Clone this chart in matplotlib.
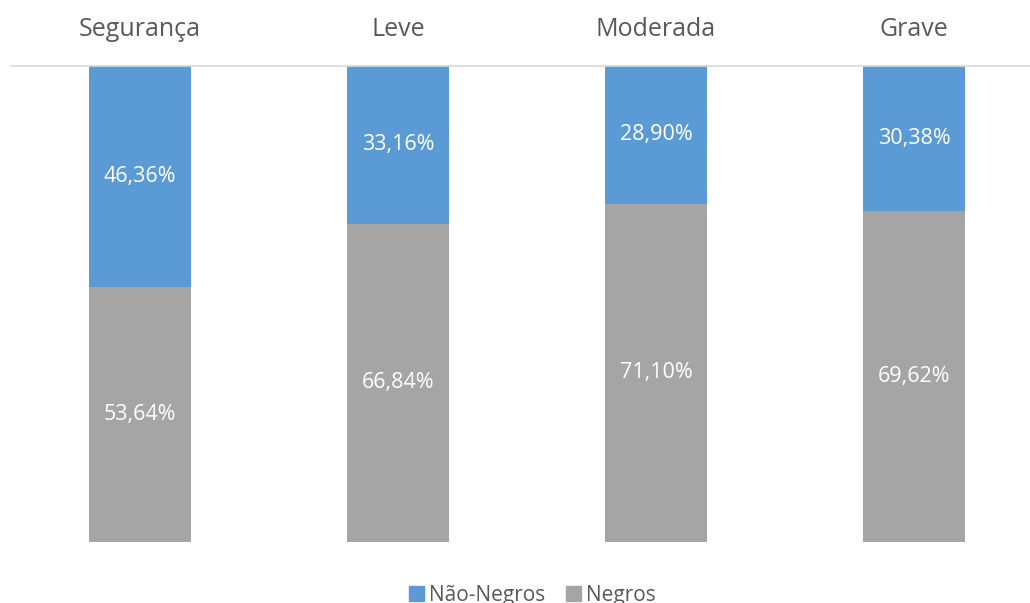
import matplotlib.pyplot as plt
import matplotlib.patches as mpatches

categorias = ['Segurança', 'Leve', 'Moderada', 'Grave']
negros = [53.64, 66.84, 71.10, 69.62]
nao_negros = [46.36, 33.16, 28.90, 30.38]

COR_AZUL = '#5B9BD5'
COR_CINZA = '#A5A5A5'
COR_TEXTO = '#595959'

plt.rcParams['font.family'] = ['Open Sans', 'DejaVu Sans']

fig = plt.figure(figsize=(10.30, 6.03), dpi=100)
ax = fig.add_axes([11 / 1030, 1 - 542 / 603, 1032 / 1030, (542 - 66) / 603])

x = range(len(categorias))
largura = 0.395

ax.bar(x, negros, width=largura, color=COR_CINZA)
ax.bar(x, nao_negros, width=largura, bottom=negros, color=COR_AZUL)

fmt = lambda v: f'{v:.2f}%'.replace('.', ',')
for i in x:
    ax.text(i, negros[i] / 2, fmt(negros[i]), ha='center', va='center',
            color='white', fontsize=15.5)
    ax.text(i, negros[i] + nao_negros[i] / 2, fmt(nao_negros[i]), ha='center',
            va='center', color='white', fontsize=15.5)

ax.set_xlim(-0.5, 3.5)
ax.set_ylim(0, 100)
ax.xaxis.tick_top()
ax.set_xticks(list(x))
ax.set_xticklabels(categorias, fontsize=18, color=COR_TEXTO)
ax.tick_params(axis='x', length=0, pad=17)
ax.set_yticks([])
for lado in ['left', 'right', 'bottom']:
    ax.spines[lado].set_visible(False)
ax.spines['top'].set_color('#D9D9D9')
ax.spines['top'].set_linewidth(1.2)

handles = [mpatches.Patch(color=COR_AZUL, label='Não-Negros'),
           mpatches.Patch(color=COR_CINZA, label='Negros')]
leg = fig.legend(handles=handles, loc='center', bbox_to_anchor=(0.517, 0.013),
                 ncol=2, frameon=False, fontsize=15, handlelength=0.7,
                 handleheight=0.7, handletextpad=0.25, columnspacing=1.0)
for t in leg.get_texts():
    t.set_color(COR_TEXTO)

fig.savefig('out.png', dpi=100)
